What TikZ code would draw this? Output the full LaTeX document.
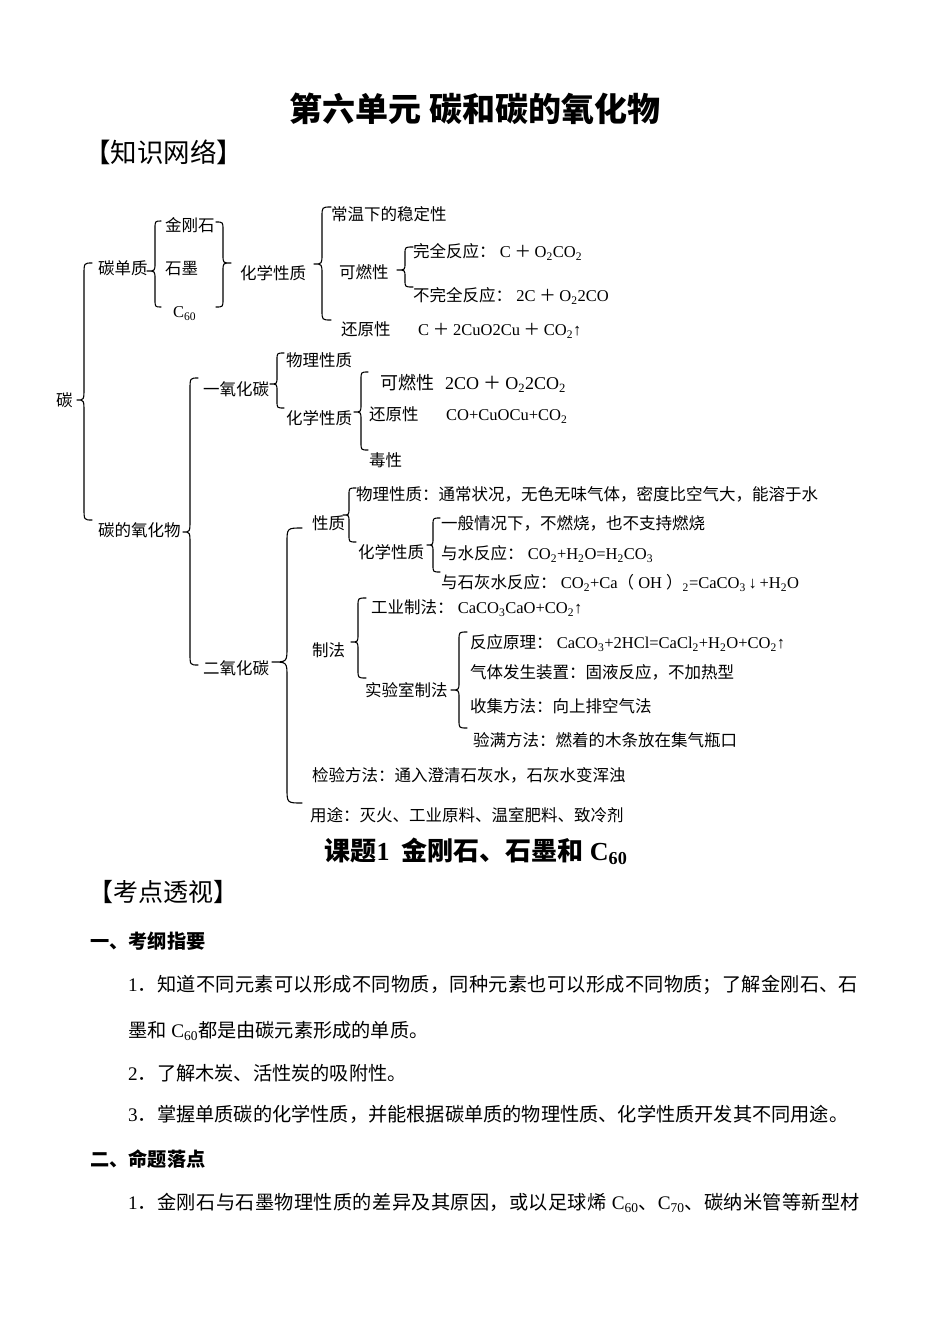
\documentclass[tikz,border=0pt]{standalone}
\usepackage{fontspec}
\setmainfont{Noto Sans CJK SC}
\newfontfamily\tm{Liberation Serif}
\newcommand\sbs[1]{\textsubscript{#1}}
\newcommand\fs[1]{\fontsize{#1}{#1}\selectfont}
\newcommand\jl[2]{\parbox[c]{#1}{\XeTeXlinebreaklocale "zh"\XeTeXlinebreakskip=0pt plus 2pt\parfillskip=0pt\noindent #2}}
% brace: xtip ytip xline ytop ybot xend r
\newcommand\brc[7]{\draw[bracel] (#6,#4) .. controls (#3,#4) .. (#3,#4+#7) -- (#3,#2-#7) .. controls (#3,#2) .. (#1,#2) .. controls (#3,#2) .. (#3,#2+#7) -- (#3,#5-#7) .. controls (#3,#5) .. (#6,#5);}
\tikzset{
  t/.style={anchor=west, inner sep=0pt, text height=0.88em, text depth=0.12em, yshift=-3pt, font=\fs{16.5}},
  tb/.style={t, font=\fs{18}},
  body/.style={t, font=\fs{19.2}},
  head/.style={t, font=\fs{19.2}\bfseries},
  bracel/.style={line width=1.1pt, line join=round, line cap=round},
}
\begin{document}
\begin{tikzpicture}[x=1pt,y=-1pt]
\fill[white] (0,0) rectangle (950,1342);
\useasboundingbox (0,0) rectangle (950,1342);

% titles
\node[anchor=center, inner sep=0pt, font=\fs{33}\bfseries] (title) at (475,109) {第六单元 碳和碳的氧化物};
\node[t, font=\fs{26.5}, yshift=-3pt] (zswl) at (84,153) {【知识网络】};

% braces
\brc{77}{400}{84}{263}{520}{92}{12}
\brc{147}{271}{155}{221}{307}{161}{8}
\brc{231}{263}{223}{222}{307}{216}{8}
\brc{314}{264}{322}{207}{320}{331}{10}
\brc{397}{270}{405}{247}{287}{413}{7}
\brc{270}{384}{277}{353}{408}{284}{7}
\brc{354}{412}{361}{372}{450}{368}{8}
\brc{183}{532}{190}{378}{665}{198}{12}
\brc{272}{662}{287}{528}{803}{302}{15}
\brc{343}{515}{349}{488}{542}{356}{7}
\brc{427}{545}{433}{518}{572}{440}{7}
\brc{351}{642}{358}{598}{678}{366}{8}
\brc{451}{690}{459}{632}{728}{467}{8}

% carbon element
\node[t] (tan) at (56,400) {碳};
\node[t] (tdz) at (98,268) {碳单质};
\node[t] (jgs) at (165,225) {金刚石};
\node[t] (sm) at (165,268) {石墨};
\node[t] (c60) at (173,311) {{\tm C\sbs{60}}};
\node[t] (hx1) at (240,273) {化学性质};
\node[t] (wd) at (331,214) {常温下的稳定性};
\node[t] (kr1) at (339,272) {可燃性};
\node[t] (wq) at (413,251) {完全反应：{\tm\ C} ＋ {\tm O\sbs{2}CO\sbs{2}}};
\node[t] (bwq) at (413,295) {不完全反应：{\tm\ 2C} ＋ {\tm O\sbs{2}2CO}};
\node[t] (hy1) at (341,329) {还原性};
\node[t] (hy1f) at (418,329) {{\tm C} ＋ {\tm 2CuO2Cu} ＋ {\tm CO\sbs{2}↑}};

% CO
\node[t] (tdyh) at (98,530) {碳的氧化物};
\node[t] (yyht) at (203,389) {一氧化碳};
\node[t] (wl2) at (286,360) {物理性质};
\node[t] (hx2) at (286,418) {化学性质};
\node[tb] (kr2) at (380,383) {可燃性};
\node[tb] (kr2f) at (445,383) {{\tm 2CO} ＋ {\tm O\sbs{2}2CO\sbs{2}}};
\node[t] (hy2) at (369,414) {还原性};
\node[t] (hy2f) at (446,414) {{\tm CO+CuOCu+CO\sbs{2}}};
\node[t] (dx) at (369,460) {毒性};

% CO2
\node[t] (eyht) at (203,668) {二氧化碳};
\node[t] (xz) at (312,523) {性质};
\node[t] (wl3) at (356,494) {物理性质：通常状况，无色无味气体，密度比空气大，能溶于水};
\node[t] (hx3) at (358,552) {化学性质};
\node[t] (yb) at (441,523) {一般情况下，不燃烧，也不支持燃烧};
\node[t] (ys) at (441,553) {与水反应：{\tm\ CO\sbs{2}+H\sbs{2}O=H\sbs{2}CO\sbs{3}}};
\node[t] (sh) at (441,582) {与石灰水反应：{\tm\ CO\sbs{2}+Ca}（{\tm\ OH\ }）{\tm\sbs{2}=CaCO\sbs{3}\,↓\,+H\sbs{2}O}};
\node[t] (zf) at (312,650) {制法};
\node[t] (gy) at (371,607) {工业制法：{\tm\ CaCO\sbs{3}CaO+CO\sbs{2}↑}};
\node[t] (sys) at (365,690) {实验室制法};
\node[t] (fy) at (470,642) {反应原理：{\tm\ CaCO\sbs{3}+2HCl=CaCl\sbs{2}+H\sbs{2}O+CO\sbs{2}↑}};
\node[t] (qt) at (470,672) {气体发生装置：固液反应，不加热型};
\node[t] (sj) at (470,706) {收集方法：向上排空气法};
\node[t] (ym) at (473,740) {验满方法：燃着的木条放在集气瓶口};
\node[t] (jy) at (312,775) {检验方法：通入澄清石灰水，石灰水变浑浊};
\node[t] (yt) at (310,815) {用途：灭火、工业原料、温室肥料、致冷剂};

% lesson part
\node[anchor=center, inner sep=0pt, font=\fs{26}\bfseries] (kt) at (476,851) {课题{\tm\bfseries 1}\ \ 金刚石、石墨和{\tm\bfseries\ C\sbs{60}}};
\node[t, font=\fs{25}] (kdts) at (88,895) {【考点透视】};
\node[head] (h1) at (90,942) {一、考纲指要};
\node[body] (p1) at (128,983) {\jl{730pt}{{\tm 1}．知道不同元素可以形成不同物质，同种元素也可以形成不同物质；了解金刚石、石}};
\node[body] (p1b) at (128,1031) {墨和{\tm\ C\sbs{60}}都是由碳元素形成的单质。};
\node[body] (p2) at (128,1074) {{\tm 2}．了解木炭、活性炭的吸附性。};
\node[body] (p3) at (128,1115) {{\tm 3}．掌握单质碳的化学性质，并能根据碳单质的物理性质、化学性质开发其不同用途。};
\node[head] (h2) at (90,1160) {二、命题落点};
\node[body] (p4) at (128,1201) {\jl{732pt}{{\tm 1}．金刚石与石墨物理性质的差异及其原因，或以足球烯{\tm\ C\sbs{60}}、{\tm C\sbs{70}}、碳纳米管等新型材}};
\end{tikzpicture}
\end{document}
